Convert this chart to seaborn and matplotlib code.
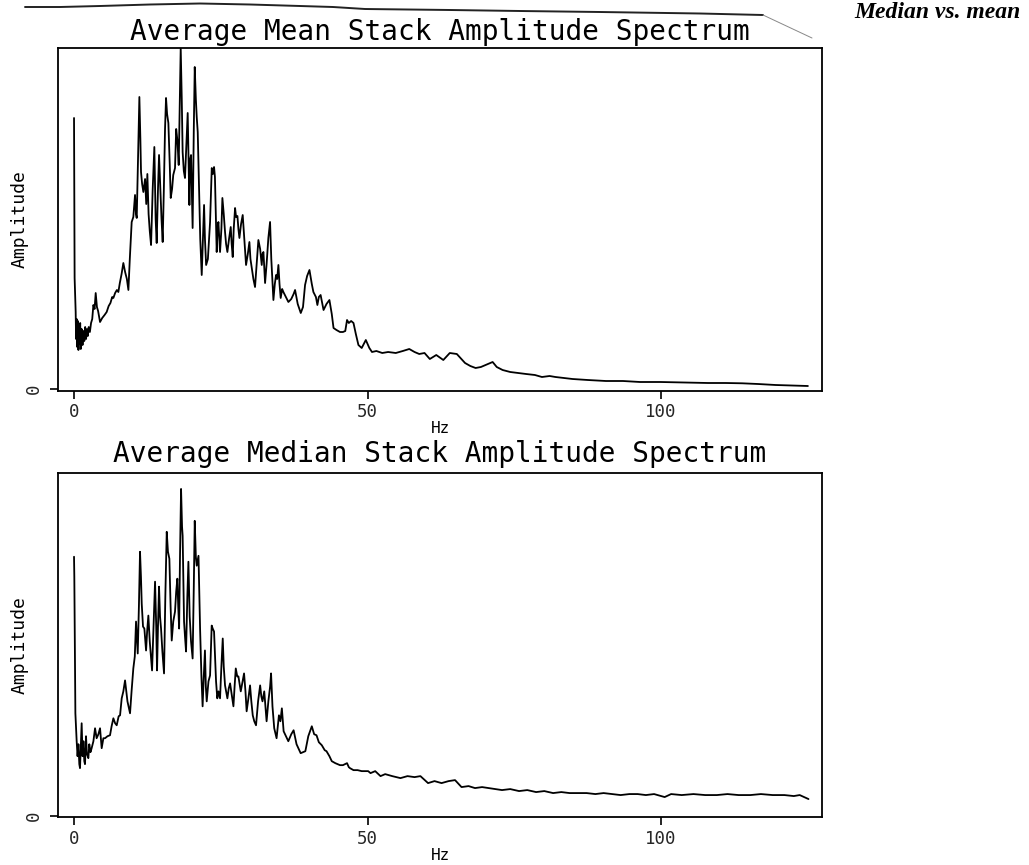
import matplotlib
matplotlib.use("Agg")
import matplotlib.pyplot as plt
import seaborn as sns
import pandas as pd
from matplotlib.lines import Line2D

# ---------------- data (arbitrary amplitude units) -------------
mean_hz = [0.0, 0.1, 0.28, 0.35, 0.45, 0.55, 0.65, 0.75, 0.85, 0.95, 1.05, 1.15, 1.3, 1.45,
           1.6, 1.75, 1.9, 2.05, 2.2, 2.35, 2.5, 2.7, 2.9, 3.1, 3.3, 3.5, 3.69, 3.9, 4.1,
           4.43, 4.8, 5.2, 5.56, 5.9, 6.2, 6.5, 6.7, 7.0, 7.3, 7.55, 7.8, 8.1, 8.4, 8.7,
           9.0, 9.26, 9.5, 9.82, 10.1, 10.39, 10.55, 10.68, 10.9, 11.13, 11.3, 11.41, 11.6,
           11.81, 12.1, 12.3, 12.49, 12.7, 12.9, 13.12, 13.4, 13.68, 13.9, 14.08, 14.3,
           14.48, 14.7, 14.9, 15.1, 15.3, 15.5, 15.67, 15.85, 16.07, 16.3, 16.47, 16.7,
           16.9, 17.2, 17.4, 17.6, 17.83, 18.0, 18.17, 18.35, 18.5, 18.7, 18.9, 19.1,
           19.36, 19.5, 19.65, 19.8, 19.93, 20.1, 20.2, 20.4, 20.56, 20.75, 20.9, 21.07,
           21.3, 21.5, 21.75, 21.95, 22.15, 22.3, 22.5, 22.8, 23.0, 23.17, 23.46, 23.65,
           23.85, 24.0, 24.19, 24.3, 24.45, 24.59, 24.87, 25.1, 25.27, 25.5, 25.72, 25.9,
           26.12, 26.4, 26.69, 26.85, 27.03, 27.2, 27.43, 27.6, 27.83, 28.0, 28.17, 28.45,
           28.73, 29.0, 29.3, 29.6, 29.87, 30.05, 30.27, 30.55, 30.83, 31.1, 31.4, 31.7,
           31.97, 32.1, 32.26, 32.54, 32.8, 33.1, 33.39, 33.6, 33.96, 34.2, 34.41, 34.6,
           34.81, 35.0, 35.2, 35.45, 35.66, 36.0, 36.51, 37.0, 37.4, 37.65, 38.1, 38.62,
           39.0, 39.35, 39.7, 40.1, 40.5, 40.77, 41.2, 41.45, 41.7, 42.0, 42.5, 43.0,
           43.5, 43.9, 44.2, 44.7, 45.3, 45.8, 46.2, 46.5, 46.8, 47.2, 47.6, 48.0, 48.44,
           49.0, 49.7, 50.3, 50.75, 51.5, 52.5, 53.5, 54.8, 56.0, 57.1, 58.0, 58.8, 59.7,
           60.6, 61.7, 62.9, 64.0, 65.2, 66.6, 67.5, 68.4, 69.3, 70.1, 71.3, 72.0, 73.0,
           74.3, 75.6, 77.0, 78.5, 79.7, 81.0, 82.0, 83.5, 84.9, 87.5, 90.6, 93.5, 96.4,
           99.9, 104.0, 108.0, 111.0, 113.8, 116.5, 119.5, 122.5, 125.0]
mean_amp = [271, 111, 77, 50, 70, 42, 68, 39, 62, 45, 66, 40, 60, 44,
            58, 48, 62, 50, 60, 53, 62, 57, 66, 70, 84, 80, 96, 82, 78,
            67, 71, 74, 77, 83, 86, 92, 91, 96, 99, 97, 106, 115, 126, 117,
            110, 99, 130, 167, 172, 194, 175, 171, 230, 292, 250, 217, 205,
            197, 210, 185, 215, 175, 158, 144, 200, 242, 170, 146, 200,
            234, 200, 170, 147, 200, 260, 291, 275, 266, 225, 191, 200,
            214, 221, 260, 249, 224, 280, 341, 290, 237, 218, 211, 240,
            276, 230, 184, 230, 234, 190, 161, 260, 322, 290, 272, 257,
            200, 150, 114, 150, 184, 150, 124, 130, 150, 167, 221, 215,
            222, 212, 164, 137, 160, 167, 137, 160, 191, 175, 157, 145,
            137, 150, 162, 145, 132, 160, 181, 172, 173, 160, 151, 165,
            174, 150, 124, 135, 147, 130, 121, 110, 102, 125, 149, 140,
            124, 135, 137, 106, 125, 151, 167, 130, 89, 105, 114, 110,
            124, 105, 91, 100, 97, 93, 87, 90, 95, 99, 85, 76,
            82, 104, 113, 119, 105, 97, 92, 84, 92, 94, 79, 85,
            89, 75, 61, 59, 57, 57, 58, 69, 66, 68, 66, 55, 44,
            41, 49, 41, 37, 38, 36, 37, 36, 38, 40, 37, 35, 36,
            30, 34, 29, 36, 35, 26, 23, 21, 22, 24, 27, 22, 19,
            17, 16, 15, 14, 12, 13, 12, 11, 10, 9, 8, 8, 7,
            7, 6.5, 6, 6, 5.7, 5, 4, 3.5, 3]

median_hz = [0.0, 0.05, 0.23, 0.45, 0.6, 0.75, 0.9, 1.02, 1.15, 1.3, 1.45, 1.6, 1.75, 1.87,
             2.04, 2.2, 2.44, 2.6, 2.8, 3.0, 3.3, 3.58, 3.85, 4.15, 4.43, 4.71, 5.0, 5.28,
             5.7, 6.13, 6.4, 6.7, 7.0, 7.27, 7.6, 7.84, 8.12, 8.4, 8.69, 9.1, 9.54, 9.8,
             10.1, 10.35, 10.56, 10.85, 11.05, 11.24, 11.4, 11.53, 11.75, 11.98, 12.27,
             12.45, 12.66, 12.9, 13.1, 13.29, 13.55, 13.8, 14.0, 14.14, 14.3, 14.48, 14.65,
             14.82, 15.05, 15.33, 15.55, 15.79, 16.0, 16.24, 16.45, 16.64, 16.9, 17.2, 17.4,
             17.6, 17.75, 17.9, 18.05, 18.23, 18.4, 18.5, 18.74, 18.9, 19.08, 19.3, 19.48,
             19.7, 19.93, 20.2, 20.4, 20.56, 20.75, 20.9, 21.2, 21.47, 21.7, 21.9, 22.1,
             22.3, 22.45, 22.6, 22.9, 23.17, 23.45, 23.62, 23.85, 24.19, 24.4, 24.6, 24.87,
             25.1, 25.33, 25.5, 25.72, 26.12, 26.35, 26.58, 26.9, 27.15, 27.35, 27.55, 27.8,
             28.0, 28.4, 28.96, 29.2, 29.4, 29.7, 29.98, 30.2, 30.44, 30.7, 31.0, 31.35,
             31.7, 31.9, 32.1, 32.4, 32.8, 33.1, 33.4, 33.56, 33.8, 34.1, 34.5, 34.9, 35.15,
             35.4, 35.7, 36.1, 36.5, 37.0, 37.4, 37.9, 38.6, 39.0, 39.4, 39.9, 40.5, 40.9,
             41.3, 41.7, 42.2, 42.7, 43.0, 43.5, 43.9, 44.5, 45.3, 45.8, 46.5, 46.8, 47.0,
             47.6, 48.3, 49.0, 50.1, 50.5, 51.3, 52.2, 53.0, 54.2, 55.6, 56.8, 58.0, 59.0,
             60.3, 61.4, 62.6, 63.8, 64.9, 66.0, 67.2, 68.3, 69.5, 70.6, 71.8, 72.9, 74.3,
             75.8, 77.2, 78.7, 80.1, 81.6, 83.0, 84.4, 85.8, 87.3, 88.8, 90.2, 91.6, 93.1,
             94.6, 96.0, 97.4, 98.8, 100.6, 101.7, 103.5, 105.5, 107.5, 109.5, 111.3, 113.2,
             115.2, 117.0, 119.0, 121.0, 122.6, 123.6, 125.1]
median_amp = [260, 240, 103, 75, 60, 72, 52, 48, 70, 93, 60, 75, 55, 52,
              80, 62, 58, 72, 64, 68, 75, 88, 78, 82, 88, 68, 78, 78,
              80, 81, 90, 98, 93, 91, 100, 101, 118, 125, 136, 115, 103, 125,
              148, 160, 195, 163, 210, 265, 240, 213, 190, 188, 166,
              185, 201, 175, 160, 146, 190, 235, 190, 146, 190, 230, 200,
              188, 165, 143, 220, 285, 265, 258, 210, 176, 195, 205, 225,
              238, 210, 188, 260, 328, 290, 281, 195, 180, 165, 220, 255,
              200, 175, 158, 230, 296, 260, 251, 261, 188, 140, 110, 140,
              166, 130, 115, 135, 141, 191, 188, 185, 135, 118, 125, 118,
              150, 178, 150, 131, 118, 128, 133, 120, 110, 130, 148, 140,
              140, 125, 143, 125, 105, 118, 131, 115, 101, 95, 91, 115,
              131, 120, 115, 125, 95, 115, 130, 143, 110, 88, 78, 101, 95,
              108, 85, 80, 75, 82, 86, 72, 63, 64, 65, 80, 90, 82,
              81, 74, 71, 66, 65, 60, 55, 53, 51, 51, 53, 49, 48,
              46, 46, 45, 45, 43, 45, 40, 42, 40, 38, 40, 39, 40,
              33, 35, 33, 35, 36, 29, 30, 28, 29, 28, 27, 26, 27,
              25, 26, 24, 25, 23, 24, 23, 23, 23, 22, 23, 22, 21,
              22, 22, 21, 22, 19, 22, 21, 22, 21, 21, 22, 21,
              21, 22, 21, 21, 20, 21, 17]

titles = ["Average Mean Stack Amplitude Spectrum",
          "Average Median Stack Amplitude Spectrum"]
x_ticks = [0, 50, 100]
x_tick_labels = ["0", "50", "100"]
y_ticks = [0]
y_tick_labels = ["0"]
x_label = "Hz"
y_label = "Amplitude"
heading = "Median vs. mean"

# ---------------- styling -------------
sns.set_theme(style="white")
plt.rcParams["font.family"] = ["DejaVu Sans Mono", "DejaVu Sans"]

W, H = 1029, 865
fig = plt.figure(figsize=(W / 100, H / 100), dpi=100)
fig.patch.set_facecolor("white")

panels = [
    dict(rect=[58 / W, 1 - 391 / H, 764 / W, 343 / H], ylim=(-2, 341),
         hz=mean_hz, amp=mean_amp, title=titles[0], tpad=6),
    dict(rect=[58 / W, 1 - 817 / H, 764 / W, 344 / H], ylim=(-1, 344),
         hz=median_hz, amp=median_amp, title=titles[1], tpad=8),
]

for p in panels:
    ax = fig.add_axes(p["rect"])
    df = pd.DataFrame({"Hz": p["hz"], "Amplitude": p["amp"]})
    sns.lineplot(data=df, x="Hz", y="Amplitude", ax=ax, color="black",
                 linewidth=1.3, estimator=None, sort=False, legend=False)
    ax.set_xlim(-2.73, 127.4)
    ax.set_ylim(*p["ylim"])
    ax.set_facecolor("white")
    for s in ax.spines.values():
        s.set_visible(True)
        s.set_color("black")
        s.set_linewidth(1.3)
    ax.set_xticks(x_ticks)
    ax.set_xticklabels(x_tick_labels, fontsize=12.5)
    ax.set_yticks(y_ticks)
    ax.set_yticklabels(y_tick_labels, fontsize=12.5, rotation=90, va="center")
    ax.tick_params(axis="both", which="major", direction="out", length=6,
                   width=1.2, color="black", pad=3, bottom=True, left=True)
    ax.tick_params(axis="y", pad=5)
    ax.grid(False)
    ax.set_title(p["title"], fontsize=20, pad=p["tpad"], color="black")
    ax.set_xlabel(x_label, fontsize=11.5, labelpad=0, color="black")
    ax.set_ylabel(y_label, fontsize=13, color="black")
    ax.yaxis.set_label_coords(-0.039, 0.5)

# scanned-page artefact line along the top edge
art_x = [25, 60, 100, 150, 200, 250, 300, 333, 365, 450, 520, 600, 700, 763]
art_y = [7, 7, 6, 4.5, 3.5, 4.5, 6, 7, 9, 10, 11, 12, 13.5, 15]
fig.add_artist(Line2D([x / W for x in art_x], [1 - y / H for y in art_y],
                      transform=fig.transFigure, color="#222222", lw=1.4))
fig.add_artist(Line2D([763 / W, 812 / W], [1 - 15 / H, 1 - 38 / H],
                      transform=fig.transFigure, color="#888888", lw=0.7))

fig.text(937 / W, 1 - 13 / H, heading, ha="center", va="center",
         family="Liberation Serif", weight="bold", style="italic", fontsize=17,
         color="black")

fig.savefig("out.png", dpi=100, facecolor="white")
